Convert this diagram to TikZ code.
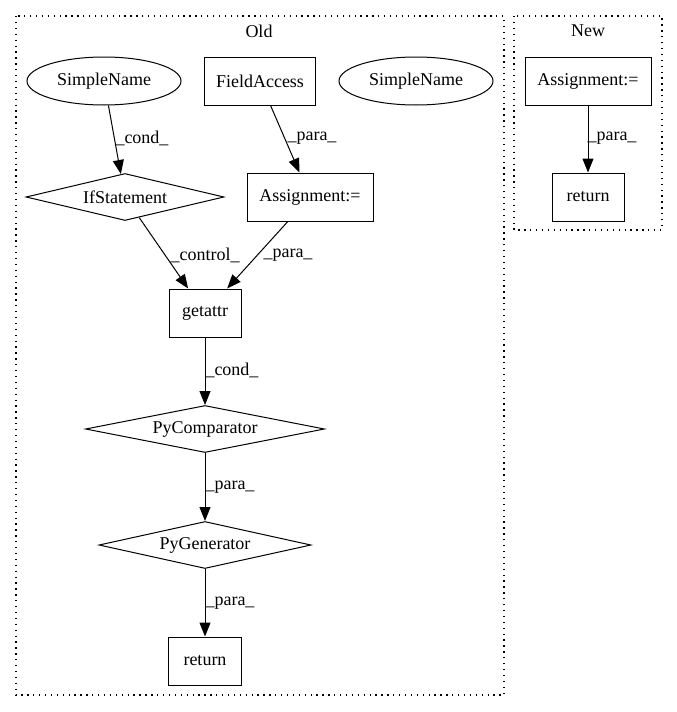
\documentclass[tikz,border=0pt]{standalone}
\usepackage{fontspec}
\setmainfont{Liberation Serif}
\usetikzlibrary{shapes.geometric,arrows.meta}
\begin{document}
\begin{tikzpicture}[x=1pt,y=-1pt,
  every node/.style={font=\fontsize{18}{21}\selectfont, inner sep=0pt},
  boxnode/.style={draw, line width=1pt, rectangle, minimum height=48pt},
  ellnode/.style={draw, line width=1pt, ellipse, minimum width=154pt, minimum height=48pt},
  dianode/.style={draw, line width=1pt, diamond, shape aspect=4.2, minimum height=47pt},
  edge/.style={line width=1pt, -{Triangle[length=14pt,width=11pt]}},
  lab/.style={},
  cluster/.style={line width=1.3pt, dash pattern=on 1.3pt off 4.6pt}
]
\useasboundingbox (0,0) rectangle (677,712);
% clusters
\draw[cluster] (16,16) rectangle (504,695);
\draw[cluster] (514,16) rectangle (662,230);
\node (oldlab) at (259,31) {Old};
\node (newlab) at (588,31) {New};
% Old nodes
\node[ellnode] (sn1) at (104,81) {SimpleName};
\node[boxnode, minimum width=111pt] (fa) at (260,81) {FieldAccess};
\node[ellnode] (sn2) at (416,81) {SimpleName};
\node[dianode, minimum width=198pt] (ifs) at (125,197) {IfStatement};
\node[boxnode, minimum width=126pt] (asg) at (310,197) {Assignment:=};
\node[boxnode, minimum width=72pt] (get) at (205,313) {getattr};
\node[dianode, minimum width=239pt] (pyc) at (205,429) {PyComparator};
\node[dianode, minimum width=212pt] (pyg) at (205,545) {PyGenerator};
\node[boxnode, minimum width=73pt] (ret) at (205,661) {return};
% New nodes
\node[boxnode, minimum width=126pt] (nasg) at (588,81) {Assignment:=};
\node[boxnode, minimum width=72pt] (nret) at (588,197) {return};
% edges
\draw[edge] (sn1) -- (ifs);
\draw[edge] (fa) -- (asg);
\draw[edge] (ifs) -- (get);
\draw[edge] (asg) -- (get);
\draw[edge] (get) -- (pyc);
\draw[edge] (pyc) -- (pyg);
\draw[edge] (pyg) -- (ret);
\draw[edge] (nasg) -- (nret);
% labels
\node[lab] (l1) at (142,138) {\_cond\_};
\node[lab] (l2) at (312,138) {\_para\_};
\node[lab] (l3) at (205,255) {\_control\_};
\node[lab] (l4) at (288,255) {\_para\_};
\node[lab] (l5) at (232,370) {\_cond\_};
\node[lab] (l6) at (230,487) {\_para\_};
\node[lab] (l7) at (230,603) {\_para\_};
\node[lab] (l8) at (612,138) {\_para\_};
\end{tikzpicture}
\end{document}
